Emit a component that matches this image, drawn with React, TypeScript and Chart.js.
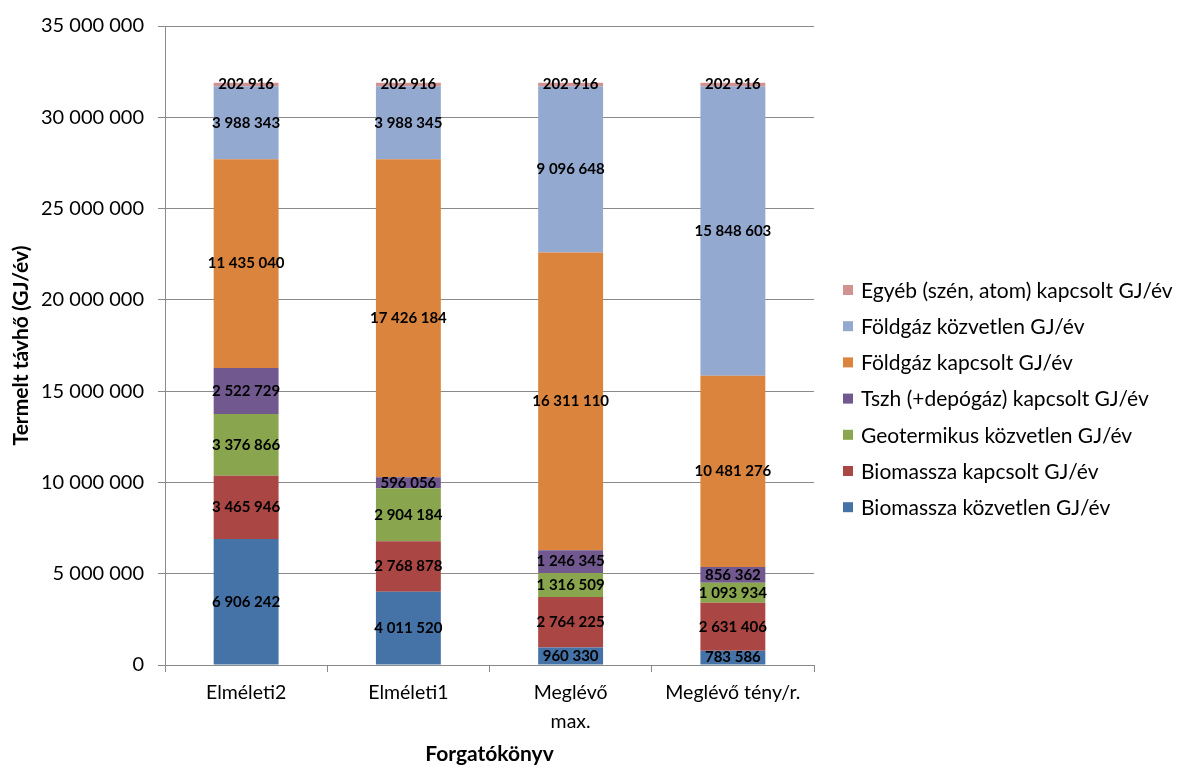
import React, { useEffect, useRef } from 'react';
import { Chart, registerables } from 'chart.js';

Chart.register(...registerables);

// Scenarios (x axis categories)
const scenarios: (string | string[])[] = ['Elméleti2', 'Elméleti1', ['Meglévő', 'max.'], 'Meglévő tény/r.'];

// Produced district heat by source, GJ/év
const biomasszaKozvetlen = [6906242, 4011520, 960330, 783586];
const biomasszaKapcsolt = [3465946, 2768878, 2764225, 2631406];
const geotermikusKozvetlen = [3376866, 2904184, 1316509, 1093934];
const tszhKapcsolt = [2522729, 596056, 1246345, 856362];
const foldgazKapcsolt = [11435040, 17426184, 16311110, 10481276];
const foldgazKozvetlen = [3988343, 3988345, 9096648, 15848603];
const egyebKapcsolt = [202916, 202916, 202916, 202916];

const seriesNames = [
  'Biomassza közvetlen GJ/év',
  'Biomassza kapcsolt GJ/év',
  'Geotermikus közvetlen GJ/év',
  'Tszh (+depógáz) kapcsolt GJ/év',
  'Földgáz kapcsolt GJ/év',
  'Földgáz közvetlen GJ/év',
  'Egyéb (szén, atom) kapcsolt GJ/év',
];
const seriesValues = [
  biomasszaKozvetlen,
  biomasszaKapcsolt,
  geotermikusKozvetlen,
  tszhKapcsolt,
  foldgazKapcsolt,
  foldgazKozvetlen,
  egyebKapcsolt,
];
const seriesColors = ['#4572A7', '#AA4643', '#89A54E', '#71588F', '#DB843D', '#93A9CF', '#D19392'];

const yMin = 0;
const yMax = 35000000;
const yStep = 5000000;

const FONT = 'Lato, "Open Sans", sans-serif';
const GRID = '#8a8a8a';

function fmt(n: number): string {
  return Math.round(n).toString().replace(/\B(?=(\d{3})+(?!\d))/g, ' ');
}

// Value labels centred in each stacked segment
const segmentLabels = {
  id: 'segmentLabels',
  afterDatasetsDraw(chart: any) {
    const ctx = chart.ctx;
    ctx.save();
    ctx.font = `bold 15px ${FONT}`;
    ctx.fillStyle = '#000';
    ctx.textAlign = 'center';
    ctx.textBaseline = 'middle';
    chart.data.datasets.forEach((ds: any, di: number) => {
      const meta = chart.getDatasetMeta(di);
      meta.data.forEach((bar: any, i: number) => {
        const p = bar.getCenterPoint();
        ctx.fillText(fmt(ds.data[i]), p.x, p.y);
      });
    });
    ctx.restore();
  },
};

// Legend on the right, listed top series first
const sideLegend = {
  id: 'sideLegend',
  afterDraw(chart: any) {
    const ctx = chart.ctx;
    ctx.save();
    ctx.font = `21px ${FONT}`;
    ctx.textBaseline = 'middle';
    ctx.textAlign = 'left';
    const x0 = 843;
    const y0 = 290;
    const step = 36.2;
    const n = seriesNames.length;
    for (let k = 0; k < n; k++) {
      const idx = n - 1 - k;
      const y = y0 + k * step;
      ctx.fillStyle = seriesColors[idx];
      ctx.fillRect(x0, y - 5, 10, 10);
      ctx.fillStyle = '#000';
      ctx.fillText(seriesNames[idx], x0 + 18, y + 1);
    }
    ctx.restore();
  },
};

export default function App() {
  const canvasRef = useRef<HTMLCanvasElement | null>(null);

  useEffect(() => {
    if (!canvasRef.current) return;
    const chart = new Chart(canvasRef.current, {
      type: 'bar',
      data: {
        labels: scenarios,
        datasets: seriesNames.map((name, i) => ({
          label: name,
          data: seriesValues[i],
          backgroundColor: seriesColors[i],
          borderWidth: 0,
          categoryPercentage: 1,
          barPercentage: 0.4,
        })),
      },
      options: {
        animation: false,
        responsive: true,
        maintainAspectRatio: false,
        layout: { padding: { left: 0, right: 368, top: 22, bottom: 0 } },
        plugins: {
          legend: { display: false },
          tooltip: { enabled: false },
        },
        scales: {
          x: {
            stacked: true,
            afterFit: (s: any) => {
              s.height = 102;
            },
            grid: {
              offset: true,
              drawOnChartArea: false,
              drawTicks: true,
              tickLength: 7,
              color: GRID,
            },
            border: { display: true, color: GRID },
            ticks: {
              color: '#000',
              padding: 7,
              maxRotation: 0,
              autoSkip: false,
              font: { family: FONT, size: 19.5, lineHeight: 1.45 },
            },
            title: {
              display: true,
              text: 'Forgatókönyv',
              color: '#000',
              font: { family: FONT, size: 21, weight: 'bold' },
              padding: { top: 0, bottom: 0 },
            },
          },
          y: {
            stacked: true,
            min: yMin,
            max: yMax,
            afterFit: (s: any) => {
              s.width = 165;
            },
            grid: {
              color: GRID,
              drawTicks: true,
              tickLength: 7,
            },
            border: { display: true, color: GRID },
            ticks: {
              stepSize: yStep,
              color: '#000',
              padding: 14,
              font: { family: FONT, size: 20 },
              callback: (v: any) => fmt(Number(v)),
            },
            title: {
              display: true,
              text: 'Termelt távhő (GJ/év)',
              color: '#000',
              font: { family: FONT, size: 21, weight: 'bold' },
              padding: { top: 9, bottom: 0 },
            },
          },
        },
      },
      plugins: [segmentLabels, sideLegend],
    } as any);
    return () => chart.destroy();
  }, []);

  return (
    <div style={{ position: 'fixed', left: 0, top: 0, width: 1182, height: 767, background: '#fff' }}>
      <canvas ref={canvasRef} />
    </div>
  );
}
